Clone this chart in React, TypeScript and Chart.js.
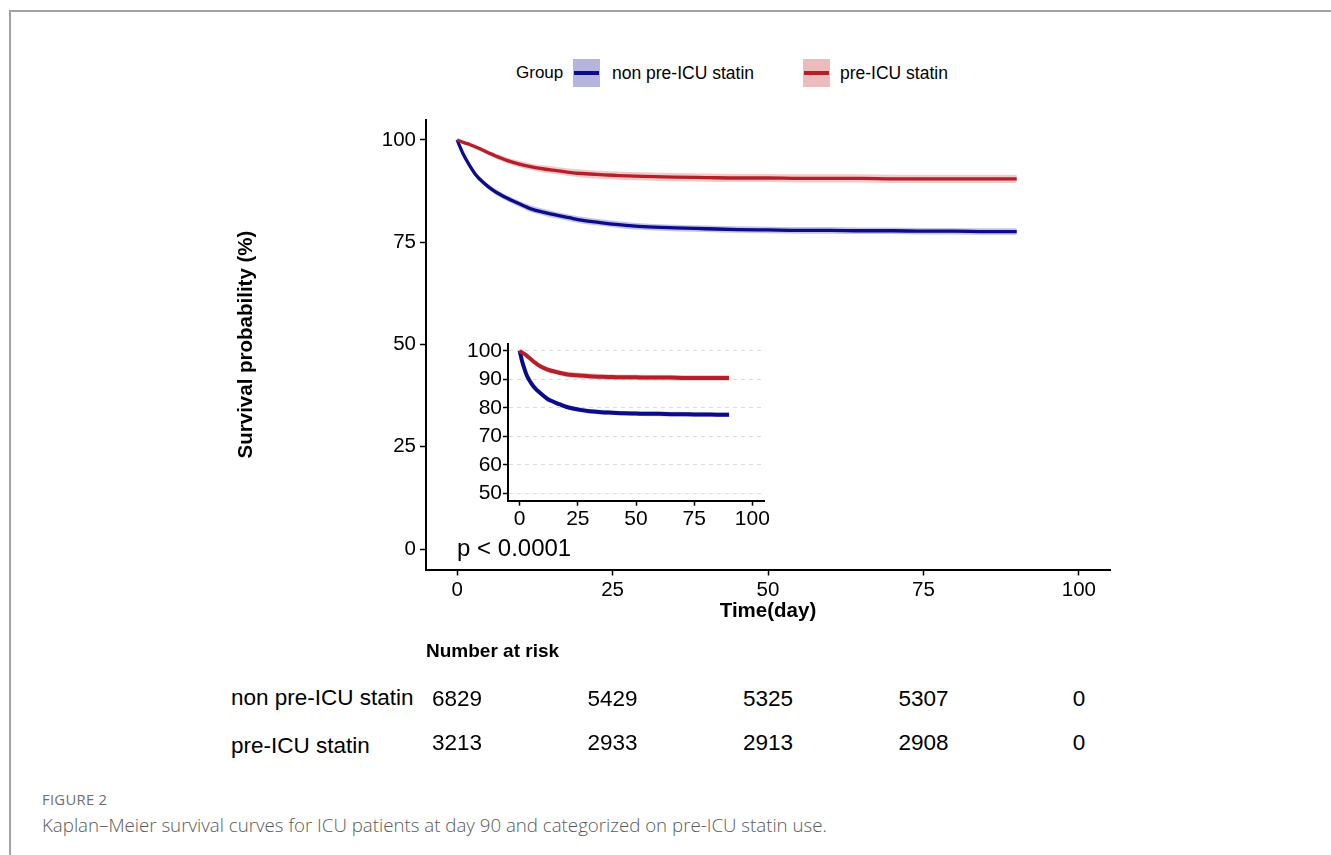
import React, { useEffect, useRef, useState } from 'react';
import { Chart, registerables } from 'chart.js';

Chart.register(...registerables);

// ---------- data ----------
const days = [0, 1, 2, 3, 4, 5, 6, 7, 8, 10, 12, 14, 16, 18, 20, 23, 26, 30, 35, 40, 45, 50, 55, 60, 65, 70, 75, 80, 85, 90];

const nonStatin = [100, 96.5, 93.8, 91.5, 89.9, 88.6, 87.5, 86.6, 85.8, 84.4, 83.1, 82.3, 81.6, 81.0, 80.4, 79.8, 79.3, 78.8, 78.5, 78.3, 78.1, 78.0, 77.9, 77.9, 77.8, 77.8, 77.7, 77.7, 77.6, 77.6];
const nonStatinLower = [100, 96.1, 93.3, 90.9, 89.3, 88.0, 86.8, 85.9, 85.1, 83.7, 82.3, 81.5, 80.8, 80.2, 79.6, 79.0, 78.5, 78.0, 77.7, 77.5, 77.3, 77.2, 77.1, 77.1, 77.0, 77.0, 76.9, 76.9, 76.8, 76.8];
const nonStatinUpper = [100, 96.9, 94.3, 92.1, 90.5, 89.2, 88.2, 87.3, 86.5, 85.1, 83.9, 83.1, 82.4, 81.8, 81.2, 80.6, 80.1, 79.6, 79.3, 79.1, 78.9, 78.8, 78.7, 78.7, 78.6, 78.6, 78.5, 78.5, 78.4, 78.4];

const preStatin = [100, 99.4, 98.9, 98.3, 97.6, 96.9, 96.2, 95.6, 95.0, 94.1, 93.4, 92.9, 92.5, 92.1, 91.8, 91.5, 91.3, 91.1, 90.9, 90.8, 90.7, 90.7, 90.6, 90.6, 90.6, 90.5, 90.5, 90.5, 90.5, 90.5];
const preStatinLower = [100, 99.1, 98.5, 97.8, 97.1, 96.3, 95.6, 94.9, 94.3, 93.3, 92.6, 92.0, 91.6, 91.2, 90.8, 90.5, 90.3, 90.1, 89.9, 89.8, 89.7, 89.7, 89.6, 89.6, 89.6, 89.5, 89.5, 89.5, 89.5, 89.5];
const preStatinUpper = [100, 99.7, 99.3, 98.8, 98.1, 97.5, 96.8, 96.3, 95.7, 94.9, 94.2, 93.8, 93.4, 93.0, 92.8, 92.5, 92.3, 92.1, 91.9, 91.8, 91.7, 91.7, 91.6, 91.6, 91.6, 91.5, 91.5, 91.5, 91.5, 91.5];

const groupLabels = ['non pre-ICU statin', 'pre-ICU statin'];
const mainXTicks = [0, 25, 50, 75, 100];
const mainYTicks = [0, 25, 50, 75, 100];
const insetXTicks = [0, 25, 50, 75, 100];
const insetYTicks = [50, 60, 70, 80, 90, 100];

const riskTimes = [0, 25, 50, 75, 100];
const riskNon = [6829, 5429, 5325, 5307, 0];
const riskPre = [3213, 2933, 2913, 2908, 0];

const pValueText = 'p < 0.0001';

// ---------- styles ----------
const FONT = '"Liberation Sans", Arial, Helvetica, sans-serif';
const BLUE = '#0b0b8c';
const RED = '#b51f27';
const BLUE_BAND = 'rgba(60,60,185,0.30)';
const RED_BAND = 'rgba(215,80,80,0.30)';

const MAIN = { left: 200, top: 100, width: 930, height: 540 };
const INSET = { left: 440, top: 330, width: 340, height: 210 };

function pts(vals: number[]) {
  return days.map((d, i) => ({ x: d, y: vals[i] }));
}

function buildDatasets(lineWidth: number) {
  const mk = (vals: number[], color: string, extra: any) => ({
    data: pts(vals),
    borderColor: color,
    pointRadius: 0,
    cubicInterpolationMode: 'monotone',
    ...extra,
  });
  return [
    mk(nonStatin, BLUE, { borderWidth: lineWidth, fill: false, order: 1, label: groupLabels[0] }),
    mk(preStatin, RED, { borderWidth: lineWidth, fill: false, order: 0, label: groupLabels[1] }),
    mk(nonStatinLower, 'rgba(0,0,0,0)', { borderWidth: 0, fill: false, order: 5 }),
    mk(nonStatinUpper, 'rgba(0,0,0,0)', { borderWidth: 0, fill: '-1', backgroundColor: BLUE_BAND, order: 5 }),
    mk(preStatinLower, 'rgba(0,0,0,0)', { borderWidth: 0, fill: false, order: 4 }),
    mk(preStatinUpper, 'rgba(0,0,0,0)', { borderWidth: 0, fill: '-1', backgroundColor: RED_BAND, order: 4 }),
  ];
}

const fixTicks = (vals: number[]) => (scale: any) => {
  scale.ticks = vals.map((v) => ({ value: v }));
};

export default function App() {
  const mainRef = useRef<HTMLCanvasElement | null>(null);
  const insetRef = useRef<HTMLCanvasElement | null>(null);
  const [riskX, setRiskX] = useState<number[]>([]);

  useEffect(() => {
    if (!mainRef.current || !insetRef.current) return;

    const pvalPlugin = {
      id: 'pval',
      afterDraw(chart: any) {
        const { ctx, scales } = chart;
        ctx.save();
        ctx.font = `24px ${FONT}`;
        ctx.fillStyle = '#000';
        ctx.textAlign = 'left';
        ctx.textBaseline = 'middle';
        ctx.fillText(pValueText, scales.x.getPixelForValue(0), scales.y.getPixelForValue(0));
        ctx.restore();
      },
    };

    const main = new Chart(mainRef.current, {
      type: 'line',
      data: { datasets: buildDatasets(3.3) as any },
      plugins: [pvalPlugin],
      options: {
        animation: false,
        responsive: false,
        events: [],
        layout: { padding: { left: 0, top: 19.5, right: 20, bottom: 14.5 } },
        plugins: { legend: { display: false }, tooltip: { enabled: false } },
        scales: {
          x: {
            type: 'linear',
            min: -5,
            max: 105,
            afterBuildTicks: fixTicks(mainXTicks),
            afterFit: (s: any) => { s.height = 56; },
            grid: { drawOnChartArea: false, drawTicks: true, tickLength: 6, tickColor: '#000', tickWidth: 1.5 },
            border: { display: true, color: '#000', width: 2 },
            ticks: { font: { family: FONT, size: 20.5 }, color: '#000', padding: 3, maxRotation: 0 },
            title: { display: true, text: 'Time(day)', font: { family: FONT, size: 20.5, weight: 'bold' }, color: '#000', padding: { top: 0, bottom: 2 } },
          },
          y: {
            type: 'linear',
            min: -5,
            max: 105,
            afterBuildTicks: fixTicks(mainYTicks),
            afterFit: (s: any) => { s.width = 226; },
            grid: { drawOnChartArea: false, drawTicks: true, tickLength: 6, tickColor: '#000', tickWidth: 1.5 },
            border: { display: true, color: '#000', width: 2 },
            ticks: { font: { family: FONT, size: 20.5 }, color: '#000', padding: 4 },
            title: { display: true, text: 'Survival probability (%)', font: { family: FONT, size: 20.5, weight: 'bold' }, color: '#000', padding: { top: 33.7, bottom: 0 } },
          },
        },
      } as any,
    });

    const inset = new Chart(insetRef.current, {
      type: 'line',
      data: { datasets: buildDatasets(4) as any },
      options: {
        animation: false,
        responsive: false,
        events: [],
        layout: { padding: { left: 0, top: 13.6, right: 16, bottom: 0 } },
        plugins: { legend: { display: false }, tooltip: { enabled: false } },
        scales: {
          x: {
            type: 'linear',
            min: -5,
            max: 105,
            afterBuildTicks: fixTicks(insetXTicks),
            afterFit: (s: any) => { s.height = 39.3; },
            grid: { drawOnChartArea: false, drawTicks: true, tickLength: 5, tickColor: '#000', tickWidth: 1.5 },
            border: { display: true, color: '#000', width: 2 },
            ticks: { font: { family: FONT, size: 21 }, color: '#000', padding: 1, maxRotation: 0 },
          },
          y: {
            type: 'linear',
            min: 47.5,
            max: 102.5,
            afterBuildTicks: fixTicks(insetYTicks),
            afterFit: (s: any) => { s.width = 68; },
            grid: { drawOnChartArea: true, drawTicks: true, color: '#dadada', lineWidth: 1, tickLength: 5, tickColor: '#000', tickWidth: 1.5 },
            border: { display: true, color: '#000', width: 2, dash: [4, 4] },
            ticks: { font: { family: FONT, size: 21 }, color: '#000', padding: 1 },
          },
        },
      } as any,
    });

    const xs = main.scales.x;
    setRiskX(riskTimes.map((t) => MAIN.left + xs.getPixelForValue(t)));

    return () => {
      main.destroy();
      inset.destroy();
    };
  }, []);

  const text = (
    key: string,
    content: string,
    x: number,
    cy: number,
    size: number,
    opts: { bold?: boolean; color?: string; family?: string; center?: boolean; spacing?: number; weight?: number } = {}
  ) => (
    <div
      key={key}
      style={{
        position: 'absolute',
        left: x,
        top: cy - size,
        height: size * 2,
        lineHeight: `${size * 2}px`,
        fontSize: size,
        fontFamily: opts.family || FONT,
        fontWeight: opts.weight ?? (opts.bold ? 700 : 400),
        color: opts.color || '#000',
        whiteSpace: 'nowrap',
        letterSpacing: opts.spacing ? `${opts.spacing}px` : undefined,
        transform: opts.center ? 'translateX(-50%)' : undefined,
      }}
    >
      {content}
    </div>
  );

  const key = (x: number, bg: string, line: string) => (
    <div style={{ position: 'absolute', left: x, top: 59, width: 27, height: 28, background: bg }}>
      <div style={{ position: 'absolute', left: 1, top: 12, width: 25, height: 4, background: line }} />
    </div>
  );

  return (
    <div
      style={{
        position: 'fixed',
        left: 0,
        top: 0,
        width: 1331,
        height: 855,
        background: '#fff',
        overflow: 'hidden',
      }}
    >
      <div
        style={{
          position: 'absolute',
          left: 9,
          top: 10,
          width: 1340,
          height: 900,
          borderTop: '2px solid #a3a3a3',
          borderLeft: '2px solid #a3a3a3',
        }}
      />

      {/* legend */}
      {text('lg-title', 'Group', 516, 73, 17)}
      {key(573, '#b4b4de', BLUE)}
      {text('lg-1', groupLabels[0], 612, 73, 17.5)}
      {key(803, '#ecbcbc', RED)}
      {text('lg-2', groupLabels[1], 840, 73, 17.5)}

      <canvas
        ref={mainRef}
        width={MAIN.width}
        height={MAIN.height}
        style={{ position: 'absolute', left: MAIN.left, top: MAIN.top, width: MAIN.width, height: MAIN.height }}
      />
      <canvas
        ref={insetRef}
        width={INSET.width}
        height={INSET.height}
        style={{ position: 'absolute', left: INSET.left, top: INSET.top, width: INSET.width, height: INSET.height }}
      />

      {/* risk table */}
      {text('risk-title', 'Number at risk', 426, 651, 19, { bold: true })}
      {text('risk-l1', groupLabels[0], 231, 697, 22.5)}
      {text('risk-l2', groupLabels[1], 231, 745, 22.5)}
      {riskX.map((x, i) => text(`rn-${i}`, String(riskNon[i]), x, 698, 22.5, { center: true }))}
      {riskX.map((x, i) => text(`rp-${i}`, String(riskPre[i]), x, 742, 22.5, { center: true }))}

      {/* caption */}
      {text('fig', 'FIGURE 2', 42, 800, 14.8, { color: '#6f6f6f', family: '"Open Sans", "Noto Sans", sans-serif', spacing: 0.3 })}
      {text(
        'cap',
        'Kaplan–Meier survival curves for ICU patients at day 90 and categorized on pre-ICU statin use.',
        42,
        825,
        18.7,
        { color: '#5a5a5a', family: '"Open Sans", "Noto Sans", sans-serif', weight: 300 }
      )}
    </div>
  );
}
